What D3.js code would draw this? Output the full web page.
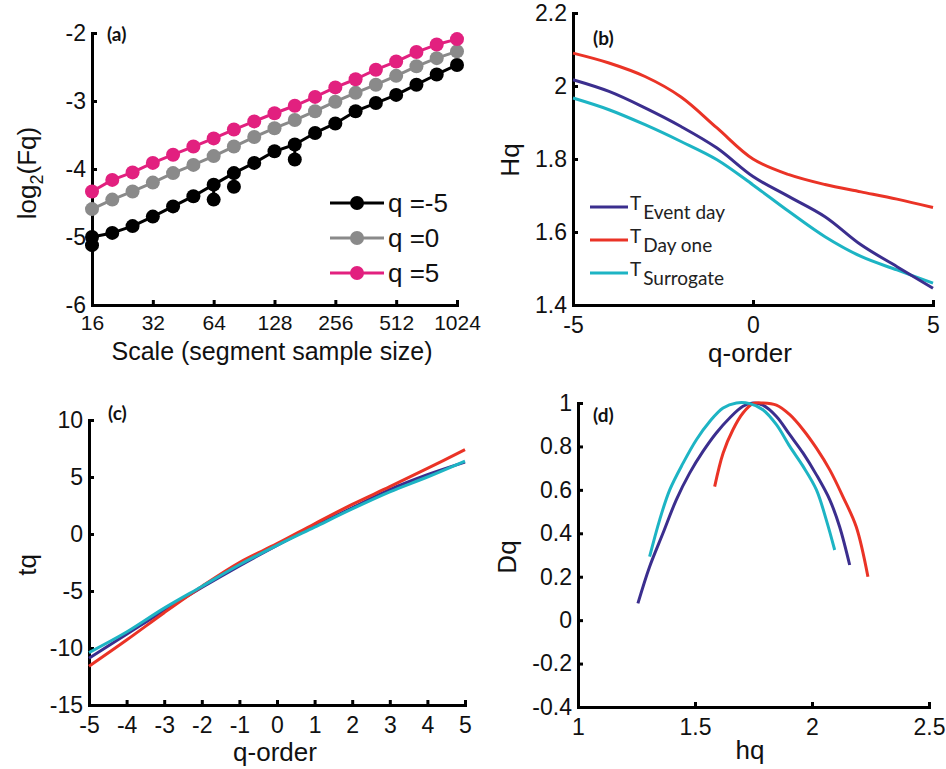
<!doctype html>
<html lang="en">
<head>
  <meta charset="utf-8">
  <title>MFDFA panels</title>
  <style>
    body { margin: 0; background: #fff; }
    svg { display: block; font-family: "Liberation Sans", Arial, sans-serif; }
    .axis path, .axis line { stroke: #000; stroke-width: 3; }
    .axis text { font-size: 23px; fill: #111; }
    .title { font-size: 26px; fill: #111; text-anchor: middle; }
    .tag { font-family: Lato, "Open Sans", sans-serif; font-weight: bold; font-size: 19px; fill: #111; }
    .curve { fill: none; stroke-width: 3; stroke-linejoin: round; }
  </style>
</head>
<body>
<div id="chart"></div>
<script src="https://cdn.jsdelivr.net/npm/d3@7"></script>
<script>
(function(){

  var width = 946, height = 769;

  // ---- panel (a): log2(Fq) vs scale ----
  var scales = [16, 20.16, 25.4, 32, 40.3, 50.8, 64, 80.6, 101.6, 128, 161.3, 203.2, 256, 322.5, 406.4, 512, 645.1, 812.7, 1024];
  var fqNeg5 = [-5.0, -4.94, -4.84, -4.70, -4.55, -4.40, -4.23, -4.06, -3.91, -3.74, -3.64, -3.47, -3.33, -3.15, -3.03, -2.91, -2.76, -2.61, -2.47];
  var fqZero = [-4.59, -4.45, -4.33, -4.20, -4.06, -3.94, -3.81, -3.67, -3.53, -3.40, -3.28, -3.15, -3.01, -2.88, -2.76, -2.63, -2.49, -2.37, -2.27];
  var fqPos5 = [-4.33, -4.16, -4.05, -3.91, -3.79, -3.67, -3.55, -3.42, -3.30, -3.18, -3.07, -2.94, -2.80, -2.68, -2.54, -2.42, -2.28, -2.17, -2.09];
  // stray points of the q=-5 curve
  var strayScale = [16, 64, 80.6, 161.3];
  var strayValue = [-5.12, -4.45, -4.26, -3.86];
  var scaleTicks = [16, 32, 64, 128, 256, 512, 1024];
  var legendA = ["q =-5", "q =0", "q =5"];

  // ---- panels (b), (c): q-order ----
  var qOrder = [-5, -4, -3, -2, -1, 0, 1, 2, 3, 4, 5];
  var hqEvent = [2.017, 1.985, 1.94, 1.889, 1.83, 1.752, 1.697, 1.642, 1.565, 1.505, 1.446];
  var hqDayOne = [2.09, 2.063, 2.026, 1.97, 1.885, 1.80, 1.757, 1.73, 1.71, 1.69, 1.667];
  var hqSurr = [1.967, 1.935, 1.894, 1.848, 1.798, 1.729, 1.656, 1.587, 1.533, 1.496, 1.46];
  var tqEvent = [-10.9, -8.8, -6.7, -4.7, -2.8, -1.0, 0.7, 2.3, 3.9, 5.2, 6.3];
  var tqDayOne = [-11.6, -9.3, -6.9, -4.6, -2.5, -0.85, 0.9, 2.6, 4.15, 5.75, 7.4];
  var tqSurr = [-10.4, -8.6, -6.5, -4.6, -2.7, -1.0, 0.6, 2.2, 3.7, 5.0, 6.4];
  var legendB = ["Event day", "Day one", "Surrogate"];

  // ---- panel (d): singularity spectrum ----
  var hEvent = [1.256, 1.306, 1.363, 1.42, 1.477, 1.534, 1.591, 1.648, 1.705, 1.748, 1.79, 1.848, 1.905, 1.962, 2.019, 2.076, 2.118, 2.161];
  var dEvent = [0.077, 0.246, 0.40, 0.554, 0.677, 0.777, 0.862, 0.931, 0.985, 1.0, 0.99, 0.938, 0.854, 0.769, 0.669, 0.554, 0.43, 0.254];
  var hDayOne = [1.584, 1.62, 1.662, 1.705, 1.748, 1.79, 1.848, 1.905, 1.962, 2.019, 2.076, 2.132, 2.189, 2.239];
  var dDayOne = [0.615, 0.769, 0.877, 0.954, 0.997, 1.0, 0.99, 0.946, 0.877, 0.792, 0.692, 0.569, 0.43, 0.2];
  var hSurr = [1.306, 1.349, 1.392, 1.449, 1.506, 1.563, 1.62, 1.677, 1.734, 1.79, 1.848, 1.905, 1.962, 2.019, 2.061, 2.097];
  var dSurr = [0.292, 0.462, 0.60, 0.723, 0.831, 0.915, 0.977, 1.0, 0.997, 0.969, 0.9, 0.80, 0.708, 0.60, 0.462, 0.323];

  var cBlack = "#000", cGray = "#8a8a8a", cPink = "#e2207f";
  var cNavy = "#3b2e8e", cRed = "#ea3326", cCyan = "#1db4c4";

  var svg = d3.select("#chart").append("svg")
      .attr("width", width)
      .attr("height", height);

  function zip(xs, ys) {
    return xs.map(function(d, i){ return [d, ys[i]]; });
  }

  // plain hyphen instead of the unicode minus, trailing zeros dropped
  function num(d) {
    return String(+d.toFixed(2));
  }

  function axes(x, y, bottom, left, xTicks, yTicks, xPad) {
    var ax = d3.axisBottom(x).tickValues(xTicks).tickSizeInner(-5).tickSizeOuter(-5)
        .tickPadding(xPad || 12).tickFormat(num);
    var gx = svg.append("g").attr("class", "axis")
        .attr("transform", "translate(0," + bottom + ")")
        .call(ax);
    var ay = d3.axisLeft(y).tickValues(yTicks).tickSizeInner(-5).tickSizeOuter(-5).tickPadding(6)
        .tickFormat(num);
    svg.append("g").attr("class", "axis")
        .attr("transform", "translate(" + left + ",0)")
        .call(ay);
    svg.selectAll(".axis .domain").attr("fill", "none");
    return gx;
  }

  function yTitle(x, y, txt) {
    return svg.append("text").attr("class", "title")
        .attr("transform", "translate(" + x + "," + y + ") rotate(-90)")
        .attr("dy", "0.35em")
        .text(txt);
  }

  function xTitle(x, y, txt) {
    return svg.append("text").attr("class", "title").attr("x", x).attr("y", y).text(txt);
  }

  function tag(x, y, txt) {
    svg.append("text").attr("class", "tag").attr("x", x).attr("y", y).text(txt);
  }

  function drawCurve(line, pts, color) {
    svg.append("path").attr("class", "curve")
        .attr("d", line(pts))
        .attr("stroke", color);
  }

  // ===== (a) =====
  var xa = d3.scaleLog().base(2).domain([16, 1024]).range([92, 457]);
  var ya = d3.scaleLinear().domain([-6, -2]).range([305, 33]);
  axes(xa, ya, 305, 92, scaleTicks, [-6, -5, -4, -3, -2], 10)
      .selectAll("text").style("font-size", "21px");

  var lineA = d3.line().x(function(d){ return xa(d[0]); }).y(function(d){ return ya(d[1]); });
  var seriesA = [[fqNeg5, cBlack], [fqZero, cGray], [fqPos5, cPink]];

  // stray black points, hanging just under their main point
  strayScale.forEach(function(s, i){
    var k = scales.indexOf(s);
    drawCurve(lineA, [[s, fqNeg5[k]], [s, strayValue[i]]], cBlack);
  });
  svg.append("g").selectAll("circle").data(strayScale).enter().append("circle")
      .attr("cx", function(d){ return xa(d); })
      .attr("cy", function(d, i){ return ya(strayValue[i]); })
      .attr("r", 7).attr("fill", cBlack);

  seriesA.forEach(function(s){
    var pts = zip(scales, s[0]);
    drawCurve(lineA, pts, s[1]);
    svg.append("g").selectAll("circle").data(pts).enter().append("circle")
        .attr("cx", function(d){ return xa(d[0]); })
        .attr("cy", function(d){ return ya(d[1]); })
        .attr("r", 7).attr("fill", s[1]);
  });

  var legA = svg.append("g");
  legendA.forEach(function(t, i){
    var yy = 203 + i * 35;
    legA.append("line").attr("x1", 330).attr("x2", 384).attr("y1", yy).attr("y2", yy)
        .attr("stroke", seriesA[i][1]).attr("stroke-width", 3);
    legA.append("circle").attr("cx", 357).attr("cy", yy).attr("r", 7).attr("fill", seriesA[i][1]);
    legA.append("text").attr("x", 388).attr("y", yy).attr("dy", "0.36em")
        .attr("font-size", 26).attr("fill", "#111").text(t);
  });

  var ta = yTitle(27, 173, "");
  ta.append("tspan").text("log");
  ta.append("tspan").attr("font-size", 18).attr("dy", 7).text("2");
  ta.append("tspan").attr("dy", -7).text("(Fq)");
  xTitle(272, 360, "Scale (segment sample size)").style("font-size", "25px");
  tag(107, 41, "(a)");

  // ===== (b) =====
  var xb = d3.scaleLinear().domain([-5, 5]).range([573, 933]);
  var yb = d3.scaleLinear().domain([1.4, 2.2]).range([305, 13]);
  axes(xb, yb, 305, 573, [-5, 0, 5], [1.4, 1.6, 1.8, 2, 2.2]);

  var lineB = d3.line().curve(d3.curveCatmullRom)
      .x(function(d){ return xb(d[0]); }).y(function(d){ return yb(d[1]); });
  drawCurve(lineB, zip(qOrder, hqDayOne), cRed);
  drawCurve(lineB, zip(qOrder, hqSurr), cCyan);
  drawCurve(lineB, zip(qOrder, hqEvent), cNavy);

  var colorsB = [cNavy, cRed, cCyan];
  legendB.forEach(function(t, i){
    var yy = 207 + i * 33;
    svg.append("line").attr("x1", 590).attr("x2", 628).attr("y1", yy).attr("y2", yy)
        .attr("stroke", colorsB[i]).attr("stroke-width", 3);
    var tx = svg.append("text").attr("x", 630).attr("y", yy + 3)
        .attr("font-family", "Lato, 'Open Sans', sans-serif").attr("fill", "#222");
    tx.append("tspan").attr("font-size", 19).text("T");
    tx.append("tspan").attr("font-size", 19).attr("dx", 2).attr("dy", 9).text(t);
  });

  yTitle(510, 160, "Hq");
  xTitle(750, 362, "q-order");
  tag(593, 45, "(b)");

  // ===== (c) =====
  var xc = d3.scaleLinear().domain([-5, 5]).range([89, 465]);
  var yc = d3.scaleLinear().domain([-15, 10]).range([705, 420]);
  axes(xc, yc, 705, 89, qOrder, [-15, -10, -5, 0, 5, 10]);

  var lineC = d3.line().curve(d3.curveCatmullRom)
      .x(function(d){ return xc(d[0]); }).y(function(d){ return yc(d[1]); });
  drawCurve(lineC, zip(qOrder, tqEvent), cNavy);
  drawCurve(lineC, zip(qOrder, tqDayOne), cRed);
  drawCurve(lineC, zip(qOrder, tqSurr), cCyan);

  yTitle(27, 565, "tq");
  xTitle(275, 761, "q-order");
  tag(108, 420, "(c)");

  // ===== (d) =====
  var xd = d3.scaleLinear().domain([1, 2.5]).range([578, 929]);
  var yd = d3.scaleLinear().domain([-0.4, 1]).range([707, 403]);
  axes(xd, yd, 707, 578, [1, 1.5, 2, 2.5], [-0.4, -0.2, 0, 0.2, 0.4, 0.6, 0.8, 1]);

  var lineD = d3.line().curve(d3.curveCatmullRom)
      .x(function(d){ return xd(d[0]); }).y(function(d){ return yd(d[1]); });
  drawCurve(lineD, zip(hEvent, dEvent), cNavy);
  drawCurve(lineD, zip(hDayOne, dDayOne), cRed);
  drawCurve(lineD, zip(hSurr, dSurr), cCyan);

  yTitle(507, 557, "Dq");
  xTitle(750, 759, "hq");
  tag(593, 422, "(d)");

})();
</script>
</body>
</html>
